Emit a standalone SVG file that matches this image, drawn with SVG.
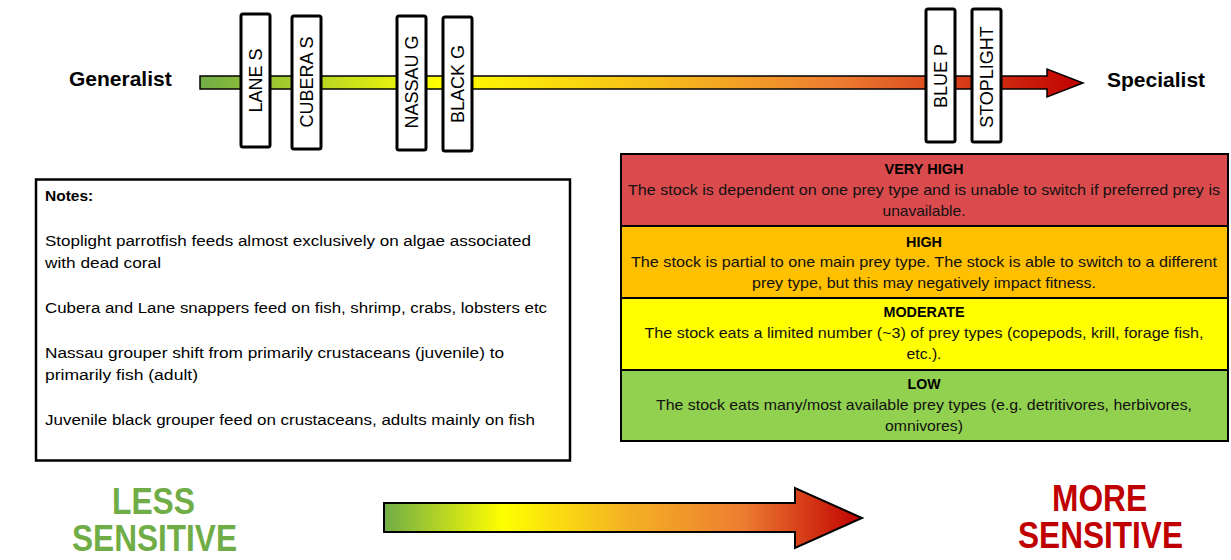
<svg xmlns="http://www.w3.org/2000/svg" width="1231" height="560" viewBox="0 0 1231 560">
<style>
  .lbl{font-family:"Liberation Sans",Arial,sans-serif;font-size:18px;fill:#000}
  .axis{font-family:"Liberation Sans",Arial,sans-serif;font-size:21px;font-weight:bold;fill:#000}
  .box{fill:#fff;stroke:#000;stroke-width:3}
  .note{font-family:"Liberation Sans",Arial,sans-serif;font-size:15.5px;fill:#000}
  .ttl{font-family:"Liberation Sans",Arial,sans-serif;font-size:14px;font-weight:bold;fill:#000;text-anchor:middle}
  .body{font-family:"Liberation Sans",Arial,sans-serif;font-size:15px;fill:#111;text-anchor:middle}
  .row{stroke:#000;stroke-width:2}
  .big{font-family:"Liberation Sans Narrow","Liberation Sans",Arial,sans-serif;font-size:36px;font-weight:bold;text-anchor:middle}
</style>
<defs>
  <linearGradient id="gTop" gradientUnits="userSpaceOnUse" x1="200" y1="0" x2="1083" y2="0">
    <stop offset="0" stop-color="#70AD47"/>
    <stop offset="0.27" stop-color="#FFFF00"/>
    <stop offset="0.5" stop-color="#F6C218"/>
    <stop offset="0.72" stop-color="#ED7D31"/>
    <stop offset="1" stop-color="#C00000"/>
  </linearGradient>
  <linearGradient id="gBot" gradientUnits="userSpaceOnUse" x1="384" y1="0" x2="862" y2="0">
    <stop offset="0" stop-color="#70AD47"/>
    <stop offset="0.25" stop-color="#FFFF00"/>
    <stop offset="0.5" stop-color="#F4B323"/>
    <stop offset="0.75" stop-color="#ED7D31"/>
    <stop offset="1" stop-color="#C00000"/>
  </linearGradient>
</defs>

<g id="connectors">
  <path id="scale-arrow" d="M200,76 L1047,76 L1047,69 L1083,83 L1047,97 L1047,89 L200,89 Z" fill="url(#gTop)" stroke="#000" stroke-width="1.5"/>
  <path id="sensitivity-arrow" d="M384,503 L795,503 L795,488 L862,518 L795,548 L795,532 L384,532 Z" fill="url(#gBot)" stroke="#000" stroke-width="2"/>
</g>

<g id="generalist"><text class="axis" x="69" y="86">Generalist</text></g>
<g id="specialist"><text class="axis" x="1107" y="87">Specialist</text></g>

<g id="lane-s">
  <rect class="box" x="241" y="14" width="29" height="133" rx="2"/>
  <text class="lbl" transform="translate(255.5,80.5) rotate(-90)" text-anchor="middle" dominant-baseline="central">LANE S</text>
</g>
<g id="cubera-s">
  <rect class="box" x="292" y="16" width="29" height="133" rx="2"/>
  <text class="lbl" transform="translate(306.5,82) rotate(-90)" text-anchor="middle" dominant-baseline="central">CUBERA S</text>
</g>
<g id="nassau-g">
  <rect class="box" x="397" y="16" width="29" height="134" rx="2"/>
  <text class="lbl" transform="translate(411.5,82) rotate(-90)" text-anchor="middle" dominant-baseline="central">NASSAU G</text>
</g>
<g id="black-g">
  <rect class="box" x="443" y="17" width="29" height="134" rx="2"/>
  <text class="lbl" transform="translate(457.5,84) rotate(-90)" text-anchor="middle" dominant-baseline="central">BLACK G</text>
</g>
<g id="blue-p">
  <rect class="box" x="926" y="9" width="29" height="133" rx="2"/>
  <text class="lbl" transform="translate(940.5,76) rotate(-90)" text-anchor="middle" dominant-baseline="central">BLUE P</text>
</g>
<g id="stoplight">
  <rect class="box" x="972" y="9" width="29" height="133" rx="2"/>
  <text class="lbl" transform="translate(986.5,77) rotate(-90)" text-anchor="middle" dominant-baseline="central">STOPLIGHT</text>
</g>

<g id="notes">
  <rect x="36" y="179.5" width="534" height="281" fill="#fff" stroke="#000" stroke-width="2.5"/>
  <text class="note" x="45" y="201" font-weight="bold" font-size="15px">Notes:</text>
  <text class="note" x="45" y="246" textLength="486" lengthAdjust="spacingAndGlyphs">Stoplight parrotfish feeds almost exclusively on algae associated</text>
  <text class="note" x="45" y="268" textLength="116" lengthAdjust="spacingAndGlyphs">with dead coral</text>
  <text class="note" x="45" y="313" textLength="502" lengthAdjust="spacingAndGlyphs">Cubera and Lane snappers feed on fish, shrimp, crabs, lobsters etc</text>
  <text class="note" x="45" y="358" textLength="459" lengthAdjust="spacingAndGlyphs">Nassau grouper shift from primarily crustaceans (juvenile) to</text>
  <text class="note" x="45" y="380" textLength="153" lengthAdjust="spacingAndGlyphs">primarily fish (adult)</text>
  <text class="note" x="45" y="425" textLength="490" lengthAdjust="spacingAndGlyphs">Juvenile black grouper feed on crustaceans, adults mainly on fish</text>
</g>

<g id="very-high">
  <rect class="row" x="621" y="154" width="607" height="72" fill="#DA4B4E"/>
  <text class="ttl" x="924" y="174" textLength="79" lengthAdjust="spacingAndGlyphs">VERY HIGH</text>
  <text class="body" x="924" y="195" textLength="592" lengthAdjust="spacingAndGlyphs">The stock is dependent on one prey type and is unable to switch if preferred prey is</text>
  <text class="body" x="924" y="216" textLength="83" lengthAdjust="spacingAndGlyphs">unavailable.</text>
</g>
<g id="high">
  <rect class="row" x="621" y="226" width="607" height="72" fill="#FFC000"/>
  <text class="ttl" x="924" y="247" textLength="36" lengthAdjust="spacingAndGlyphs">HIGH</text>
  <text class="body" x="924" y="267" textLength="586" lengthAdjust="spacingAndGlyphs">The stock is partial to one main prey type. The stock is able to switch to a different</text>
  <text class="body" x="924" y="288" textLength="344" lengthAdjust="spacingAndGlyphs">prey type, but this may negatively impact fitness.</text>
</g>
<g id="moderate">
  <rect class="row" x="621" y="298" width="607" height="72" fill="#FFFF00"/>
  <text class="ttl" x="924" y="317" textLength="81" lengthAdjust="spacingAndGlyphs">MODERATE</text>
  <text class="body" x="924" y="338" textLength="559" lengthAdjust="spacingAndGlyphs">The stock eats a limited number (~3) of prey types (copepods, krill, forage fish,</text>
  <text class="body" x="924" y="359" textLength="35" lengthAdjust="spacingAndGlyphs">etc.).</text>
</g>
<g id="low">
  <rect class="row" x="621" y="370" width="607" height="71" fill="#92D050"/>
  <text class="ttl" x="924" y="389" textLength="33" lengthAdjust="spacingAndGlyphs">LOW</text>
  <text class="body" x="924" y="410" textLength="536" lengthAdjust="spacingAndGlyphs">The stock eats many/most available prey types (e.g. detritivores, herbivores,</text>
  <text class="body" x="924" y="431" textLength="78" lengthAdjust="spacingAndGlyphs">omnivores)</text>
</g>

<g id="less-sensitive">
  <text class="big" x="153.5" y="514" fill="#70AD47" textLength="83" lengthAdjust="spacingAndGlyphs">LESS</text>
  <text class="big" x="154.5" y="551" fill="#70AD47" textLength="165" lengthAdjust="spacingAndGlyphs">SENSITIVE</text>
</g>
<g id="more-sensitive">
  <text class="big" x="1099.5" y="511" fill="#C00000" textLength="95" lengthAdjust="spacingAndGlyphs">MORE</text>
  <text class="big" x="1100.5" y="548" fill="#C00000" textLength="165" lengthAdjust="spacingAndGlyphs">SENSITIVE</text>
</g>
</svg>
